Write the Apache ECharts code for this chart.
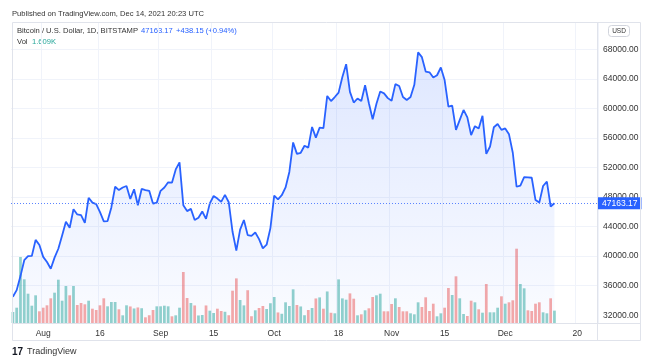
<!DOCTYPE html>
<html><head><meta charset="utf-8">
<script src="https://cdn.jsdelivr.net/npm/echarts@6/dist/echarts.min.js"></script>
<style>html,body{margin:0;padding:0;background:#fff}#c{width:665px;height:360px}</style>
</head><body><div id="c"></div>
<script>
// ---- data ----
const startDate = [2021, 6, 24]; // 24 Jul 2021 (UTC, month 0-based)
const totalDays = 155;           // category slots shown on the time axis
const prices = [
  34500, 35400, 37300, 39450, 40000, 40030, 42200, 41500,
  39900, 39200, 38300, 39800, 41000, 42800, 44650, 43850, 46350, 45650, 45550, 44500, 47900, 47250, 47050, 45950,
  44700, 44750, 46600, 49400, 48950, 49300, 49500, 47750, 49050, 46900, 49100, 48950, 48850, 47100, 47250,
  48850, 49300, 50000, 49950, 51750, 52700, 46900, 46100, 46400, 44900, 45200, 46050, 45050, 47150, 48150,
  47800, 47350, 48300, 47300, 43300, 40750, 43600, 44900, 42850, 42750, 43200, 42300, 41050, 41550, 43800,
  48200, 47700, 48250, 49300, 51400, 55400, 53850, 54000, 54950, 54700, 57500, 56050, 57400, 57350, 61700,
  61000, 61550, 62150, 64250, 66000, 62250, 60800, 61350, 61000, 63150, 60700, 58550, 60650, 62300, 62050, 61400,
  61050, 63300, 63050, 61550, 61150, 61550, 63200, 67600, 66950, 65000, 64900, 64200, 64500, 65550, 63850,
  60250, 60400, 57100, 58450, 59800, 58800, 56400, 57600, 57300, 59000, 53850, 54850, 57450, 57900, 57100,
  57300, 56500, 54000, 49400, 49550, 50700, 50680, 50620, 47600, 47250, 49500, 50100, 46725.02, 47163.17
];
const volumesK = [
  1.43, 1.99, 8.58, 5.68, 3.81, 2.25, 3.60, 1.52,
  1.99, 2.30, 3.21, 3.94, 5.63, 2.90, 4.81, 3.60, 4.81, 2.34, 2.60, 2.43, 2.90, 1.86, 1.69, 2.30,
  3.21, 2.17, 2.73, 2.73, 1.78, 1.00, 2.30, 2.15, 1.89, 2.02, 1.92, 0.74, 1.01, 1.69, 2.17,
  2.17, 2.25, 2.17, 0.87, 1.00, 1.99, 6.63, 3.25, 2.60, 2.28, 0.98, 1.04, 2.28, 1.60, 1.30,
  1.86, 1.56, 1.46, 1.01, 4.20, 5.80, 2.99, 2.29, 4.26, 0.88, 1.65, 1.95, 2.21, 1.82, 2.57,
  3.38, 1.37, 1.20, 2.69, 2.21, 4.38, 2.34, 2.15, 1.01, 1.69, 1.95, 3.19, 3.33, 1.86, 4.10,
  1.33, 1.26, 5.67, 3.20, 3.03, 3.85, 3.16, 1.00, 1.13, 1.65, 1.91, 3.38, 3.60, 3.81, 1.52, 1.52,
  2.47, 3.21, 2.08, 1.52, 1.52, 1.26, 1.13, 2.69, 2.08, 3.34, 1.56, 2.51, 0.87, 1.26, 1.99,
  4.55, 3.64, 6.07, 3.21, 1.17, 0.91, 2.90, 2.69, 1.78, 1.34, 5.07, 1.39, 1.39, 1.99, 3.47,
  2.51, 2.69, 2.95, 9.66, 5.07, 4.51, 1.65, 1.56, 2.51, 2.69, 1.39, 1.26, 3.21, 1.609
];
const xTickDates  = ['2021-08-01','2021-08-16','2021-09-01','2021-09-15','2021-10-01','2021-10-18','2021-11-01','2021-11-15','2021-12-01','2021-12-20'];
const xTickLabels = ['Aug','16','Sep','15','Oct','18','Nov','15','Dec','20'];
const yMinTick = 32000, yMaxTick = 68000, yStep = 4000;
const lastPrice = 47163.17, lastChange = 438.15, lastChangePct = 0.94;
const lastVolLabel = '1.609K';
const symbolTitle = 'Bitcoin / U.S. Dollar, 1D, BITSTAMP';
const publishedText = 'Published on TradingView.com, Dec 14, 2021 20:23 UTC';

// ---- build ----
const dates = [];
for (let i = 0; i < totalDays; i++) {
  dates.push(new Date(Date.UTC(startDate[0], startDate[1], startDate[2] + i)).toISOString().slice(0, 10));
}
const tickMap = {};
xTickDates.forEach((d, i) => tickMap[d] = xTickLabels[i]);
const isTick = (idx) => tickMap[dates[idx]] !== undefined;

const UP = 'rgba(38,166,154,0.5)', DOWN = 'rgba(239,83,80,0.5)';
const volData = volumesK.map((v, i) => ({
  value: v,
  itemStyle: { color: (i === 0 || prices[i] >= prices[i - 1]) ? UP : DOWN }
}));

const FONT = 'Liberation Sans';
const gridLine = '#f0f3fa';
const pMin = yMinTick - yStep, pMax = yMaxTick + yStep;
const nTicks = (pMax - pMin) / yStep + 1;
const splitColors = [];
for (let i = 0; i < nTicks; i++) splitColors.push(i === 0 || i === nTicks - 1 ? 'rgba(0,0,0,0)' : gridLine);

const gridLeft = 11, gridRight = 67;
const priceTop = 19.86, priceHeight = 324.9;
const plotBottomY = 323;
const pxPerUnit = priceHeight / (pMax - pMin);
const areaOrigin = pMin + (priceTop + priceHeight - plotBottomY) / pxPerUnit;

const chart = echarts.init(document.getElementById('c'), null, { renderer: 'canvas' });
chart.setOption({
  animation: false,
  backgroundColor: '#ffffff',
  textStyle: { fontFamily: FONT },
  grid: [
    { left: gridLeft, right: gridRight, top: priceTop, height: priceHeight },
    { left: gridLeft, right: gridRight, top: 23, bottom: 360 - plotBottomY }
  ],
  xAxis: [
    { type: 'category', gridIndex: 0, data: dates, boundaryGap: true, show: false },
    {
      type: 'category', gridIndex: 1, data: dates, boundaryGap: true,
      axisLine: { show: false }, axisTick: { show: false },
      axisLabel: {
        interval: (idx) => isTick(idx),
        formatter: (v) => tickMap[v] || '',
        color: '#333', fontSize: 8.5, margin: 6, fontFamily: FONT
      },
      splitLine: { show: true, interval: (idx) => isTick(idx), lineStyle: { color: gridLine, width: 1 } }
    }
  ],
  yAxis: [
    {
      type: 'value', gridIndex: 0, position: 'right', min: pMin, max: pMax, interval: yStep,
      axisLine: { show: false }, axisTick: { show: false },
      axisLabel: {
        margin: 5, color: '#333', fontSize: 8.5, fontFamily: FONT,
        formatter: (v) => (v < yMinTick || v > yMaxTick) ? '' : v.toFixed(2)
      },
      splitLine: { show: true, showMinLine: false, showMaxLine: false, lineStyle: { color: splitColors, width: 1 } }
    },
    { type: 'value', gridIndex: 1, min: 0, max: 39, show: false, splitLine: { show: false } }
  ],
  series: [
    {
      type: 'bar', xAxisIndex: 1, yAxisIndex: 1, data: volData,
      barCategoryGap: '28%', z: 2, silent: true
    },
    {
      type: 'line', xAxisIndex: 0, yAxisIndex: 0, data: prices,
      showSymbol: false, symbol: 'none', z: 3, silent: true,
      lineStyle: { color: '#2962ff', width: 1.8 },
      areaStyle: {
        origin: areaOrigin,
        color: new echarts.graphic.LinearGradient(0, 0, 0, 1, [
          { offset: 0, color: 'rgba(41,98,255,0.22)' },
          { offset: 1, color: 'rgba(41,98,255,0.03)' }
        ])
      },
      markLine: {
        silent: true, symbol: 'none', animation: false,
        lineStyle: { color: '#5b84ff', type: [1, 2], width: 1 },
        label: {
          position: 'end', distance: 0, formatter: lastPrice.toFixed(2),
          color: '#fff', backgroundColor: '#2962ff', padding: [2, 4, 1, 4],
          fontSize: 8.5, fontFamily: FONT
        },
        data: [{ yAxis: lastPrice }]
      }
    }
  ],
  graphic: [
    { type: 'rect', silent: true, z: 10, shape: { x: 12.5, y: 22.5, width: 628, height: 318 }, style: { fill: 'none', stroke: '#e0e3eb', lineWidth: 1 } },
    { type: 'line', silent: true, z: 10, shape: { x1: 597.5, y1: 22.5, x2: 597.5, y2: 340.5 }, style: { stroke: '#e0e3eb', lineWidth: 1 } },
    { type: 'line', silent: true, z: 10, shape: { x1: 12.5, y1: 323.5, x2: 640.5, y2: 323.5 }, style: { stroke: '#e0e3eb', lineWidth: 1 } },
    { type: 'text', silent: true, left: 12, top: 10, style: { text: publishedText, fill: '#333', font: '7.6px "' + FONT + '"' } },
    { type: 'text', silent: true, left: 17, top: 27, style: { text: symbolTitle, fill: '#333', font: '7.6px "' + FONT + '"' } },
    { type: 'text', silent: true, left: 141, top: 27, style: { text: lastPrice.toFixed(2), fill: '#2962ff', font: '7.6px "' + FONT + '"' } },
    { type: 'text', silent: true, left: 176, top: 27, style: { text: '+' + lastChange.toFixed(2) + ' (+' + lastChangePct.toFixed(2) + '%)', fill: '#2962ff', font: '7.6px "' + FONT + '"' } },
    { type: 'text', silent: true, left: 17, top: 38, style: { text: 'Vol', fill: '#333', font: '7.6px "' + FONT + '"' } },
    { type: 'text', silent: true, left: 32, top: 38, style: { text: lastVolLabel, fill: '#26a69a', font: '7.6px "' + FONT + '"' } },
    { type: 'rect', silent: true, z: 10, shape: { x: 608.5, y: 25.5, width: 21, height: 11, r: 3 }, style: { fill: '#fff', stroke: '#d1d4dc', lineWidth: 1 } },
    { type: 'text', silent: true, z: 11, x: 619, y: 31, style: { text: 'USD', fill: '#333', font: '6.5px "' + FONT + '"', align: 'center', verticalAlign: 'middle' } },
    { type: 'text', silent: true, left: 12, top: 347, style: { text: '17', fill: '#131722', font: 'bold 10px "' + FONT + '"' } },
    { type: 'text', silent: true, left: 27, top: 347, style: { text: 'TradingView', fill: '#333', font: '9px "' + FONT + '"' } }
  ]
});
</script></body></html>
